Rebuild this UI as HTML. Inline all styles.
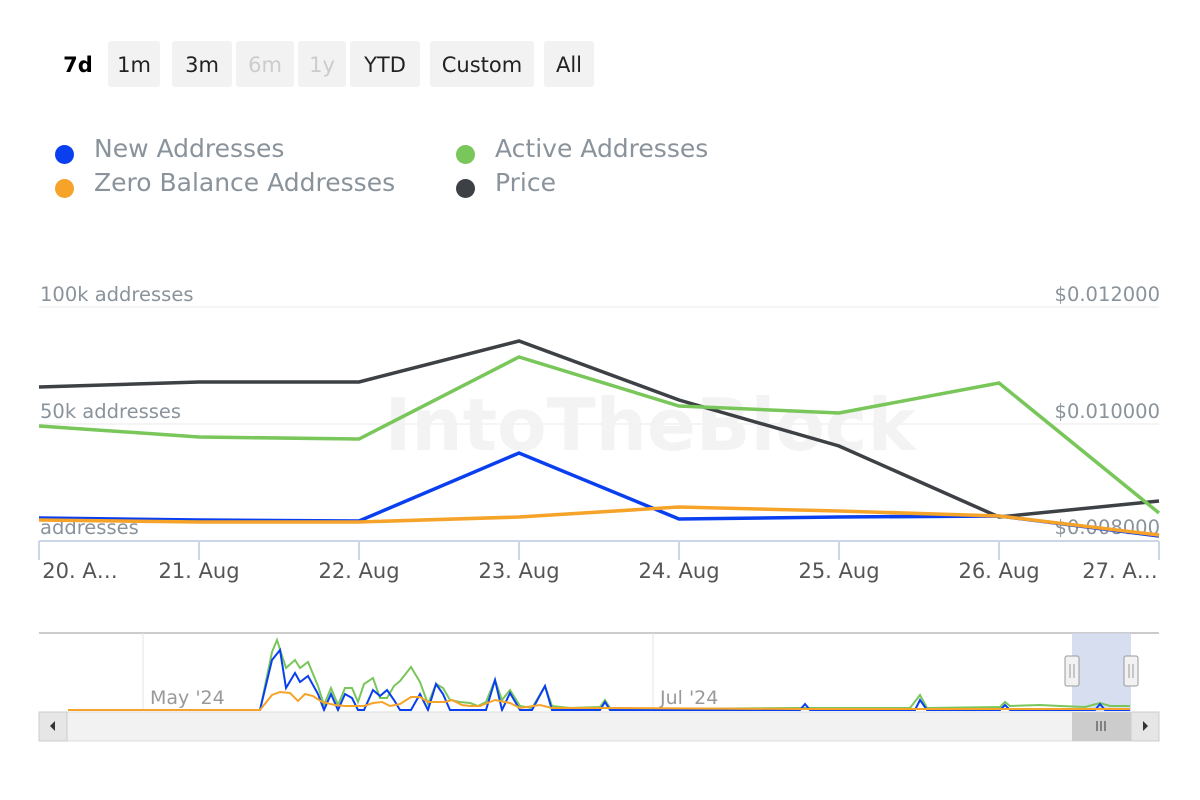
<!DOCTYPE html><html><head><style>
body{margin:0;width:1200px;height:800px;background:#fff;font-family:"DejaVu Sans",sans-serif;overflow:hidden;position:relative}
.b{position:absolute;top:41px;height:46px;line-height:48px;font-size:21px;background:#f2f2f2;color:#222;text-align:center;border-radius:3px}
.lg{position:absolute;font-size:25px;color:#8a939b}
.dot{position:absolute;width:19px;height:19px;border-radius:50%}
</style></head><body>
<div class="b" style="left:54px;width:48px;background:#fff;font-weight:bold;color:#000">7d</div>
<div class="b" style="left:108px;width:52px">1m</div>
<div class="b" style="left:172px;width:60px">3m</div>
<div class="b" style="left:236px;width:58px;color:#ccc">6m</div>
<div class="b" style="left:298px;width:48px;color:#ccc">1y</div>
<div class="b" style="left:350px;width:70px">YTD</div>
<div class="b" style="left:430px;width:104px">Custom</div>
<div class="b" style="left:544px;width:50px">All</div>
<div class="dot" style="left:55px;top:145px;background:#0a3ff0"></div><div class="lg" style="left:94px;top:134px">New Addresses</div>
<div class="dot" style="left:456px;top:145px;background:#79c65a"></div><div class="lg" style="left:495px;top:134px">Active Addresses</div>
<div class="dot" style="left:55px;top:179px;background:#f6a32a"></div><div class="lg" style="left:94px;top:168px">Zero Balance Addresses</div>
<div class="dot" style="left:456px;top:179px;background:#3d4145"></div><div class="lg" style="left:495px;top:168px">Price</div>
<svg width="1200" height="800" style="position:absolute;left:0;top:0" font-family="DejaVu Sans, sans-serif">
<g stroke="#e8e8e8"><line x1="39" x2="1159" y1="307" y2="307"/><line x1="39" x2="1159" y1="424" y2="424"/></g>
<line x1="39" x2="1159" y1="541" y2="541" stroke="#ccd6eb" stroke-width="2"/>
<g stroke="#ccd6eb" stroke-width="2"><line x1="39" x2="39" y1="541" y2="560"/><line x1="199" x2="199" y1="541" y2="560"/><line x1="359" x2="359" y1="541" y2="560"/><line x1="519" x2="519" y1="541" y2="560"/><line x1="679" x2="679" y1="541" y2="560"/><line x1="839" x2="839" y1="541" y2="560"/><line x1="999" x2="999" y1="541" y2="560"/><line x1="1159" x2="1159" y1="541" y2="560"/></g>
<text x="650" y="450" font-size="72" font-weight="bold" fill="#f3f3f3" text-anchor="middle">IntoTheBlock</text>
<g font-size="19.5" fill="#8a939b"><text x="40" y="301">100k addresses</text><text x="40" y="418">50k addresses</text><text x="40" y="534">addresses</text>
<text x="1160" y="301" text-anchor="end">$0.012000</text><text x="1160" y="418" text-anchor="end">$0.010000</text><text x="1160" y="534" text-anchor="end">$0.008000</text></g>
<g font-size="21" fill="#555" text-anchor="middle"><text x="80" y="578">20. A…</text><text x="199" y="578">21. Aug</text><text x="359" y="578">22. Aug</text><text x="519" y="578">23. Aug</text><text x="679" y="578">24. Aug</text><text x="839" y="578">25. Aug</text><text x="999" y="578">26. Aug</text><text x="1120" y="578">27. A…</text></g>
<g fill="none" stroke-width="3.5">
<polyline stroke="#3d4145" points="39,387 199,382 359,382 519,341 679,400 839,446 999,517 1159,501"/>
<polyline stroke="#79c65a" points="39,426 199,437 359,439 519,357 679,406 839,413 999,383 1159,513"/>
<polyline stroke="#0a3ff0" points="39,518 199,520 359,521 519,453 679,519 839,517 999,516 1159,536"/>
<polyline stroke="#f6a32a" points="39,520 199,522 359,522 519,517 679,507 839,511 999,516 1159,535"/>
</g>
<line x1="39" x2="1159" y1="633" y2="633" stroke="#ccc" stroke-width="2"/>
<line x1="143" x2="143" y1="633" y2="710" stroke="#e6e6e6"/><line x1="653" x2="653" y1="633" y2="710" stroke="#e6e6e6"/>
<rect x="1072" y="633" width="59" height="78" fill="#ccd6eb" opacity="0.8"/>
<g font-size="19" fill="#999"><text x="150" y="704">May '24</text><text x="660" y="704">Jul '24</text></g>
<g fill="none" stroke-width="2">
<polyline stroke="#79c65a" points="68,710 260,710 272,652 277,640 286,668 295,660 300,668 308,662 318,686 324,705 331,688 338,705 345,688 352,688 358,702 364,684 373,678 380,698 387,698 394,686 400,681 411,667 420,682 428,704 436,684 443,688 450,700 460,702 470,703 478,706 486,702 495,680 502,700 510,690 520,706 532,708 545,686 552,706 570,708 600,707 605,700 610,708 660,709 800,708 910,708 920,695 927,708 1000,707 1005,702 1010,706 1040,705 1060,706 1085,707 1100,703 1110,706 1130,706"/>
<polyline stroke="#0a3ff0" points="68,710 260,710 272,660 280,650 286,688 295,673 300,682 308,676 318,694 324,710 331,694 338,710 345,694 352,698 358,710 364,710 373,690 380,696 387,690 394,700 400,710 411,710 420,694 428,710 436,684 443,694 450,710 460,710 470,710 478,710 486,710 495,680 502,710 510,693 520,710 532,710 545,686 552,710 600,710 605,702 610,710 800,710 805,704 810,710 915,710 920,700 927,710 1000,710 1005,705 1010,710 1095,710 1100,704 1105,710 1130,710"/>
<polyline stroke="#f6a32a" points="68,710 260,710 272,695 280,692 290,693 298,701 305,694 313,696 322,702 335,705 345,706 355,706 364,706 373,703 382,702 390,706 400,704 411,697 420,697 428,702 436,702 445,702 452,700 462,705 470,706 480,706 495,700 510,703 520,708 540,705 552,708 600,708 800,709 1130,709"/>
</g>
<rect x="39" y="712" width="1120" height="29" fill="#f2f2f2" stroke="#ddd"/>
<rect x="39" y="712" width="28" height="29" fill="#e6e6e6" stroke="#ccc"/><path d="M50 726 l5 -5 v10z" fill="#333"/>
<rect x="1131" y="712" width="28" height="29" fill="#e6e6e6" stroke="#ccc"/><path d="M1148 726 l-5 -5 v10z" fill="#333"/>
<rect x="1072" y="712" width="59" height="29" fill="#ccc"/>
<g stroke="#333"><line x1="1097" x2="1097" y1="721" y2="731"/><line x1="1101" x2="1101" y1="721" y2="731"/><line x1="1105" x2="1105" y1="721" y2="731"/></g>
<g fill="#f2f2f2" stroke="#999"><rect x="1065" y="656" width="14" height="30" rx="2"/><rect x="1124" y="656" width="14" height="30" rx="2"/></g>
<g stroke="#999"><line x1="1070" x2="1070" y1="664" y2="678"/><line x1="1074" x2="1074" y1="664" y2="678"/><line x1="1129" x2="1129" y1="664" y2="678"/><line x1="1133" x2="1133" y1="664" y2="678"/></g>
</svg>
</body></html>
